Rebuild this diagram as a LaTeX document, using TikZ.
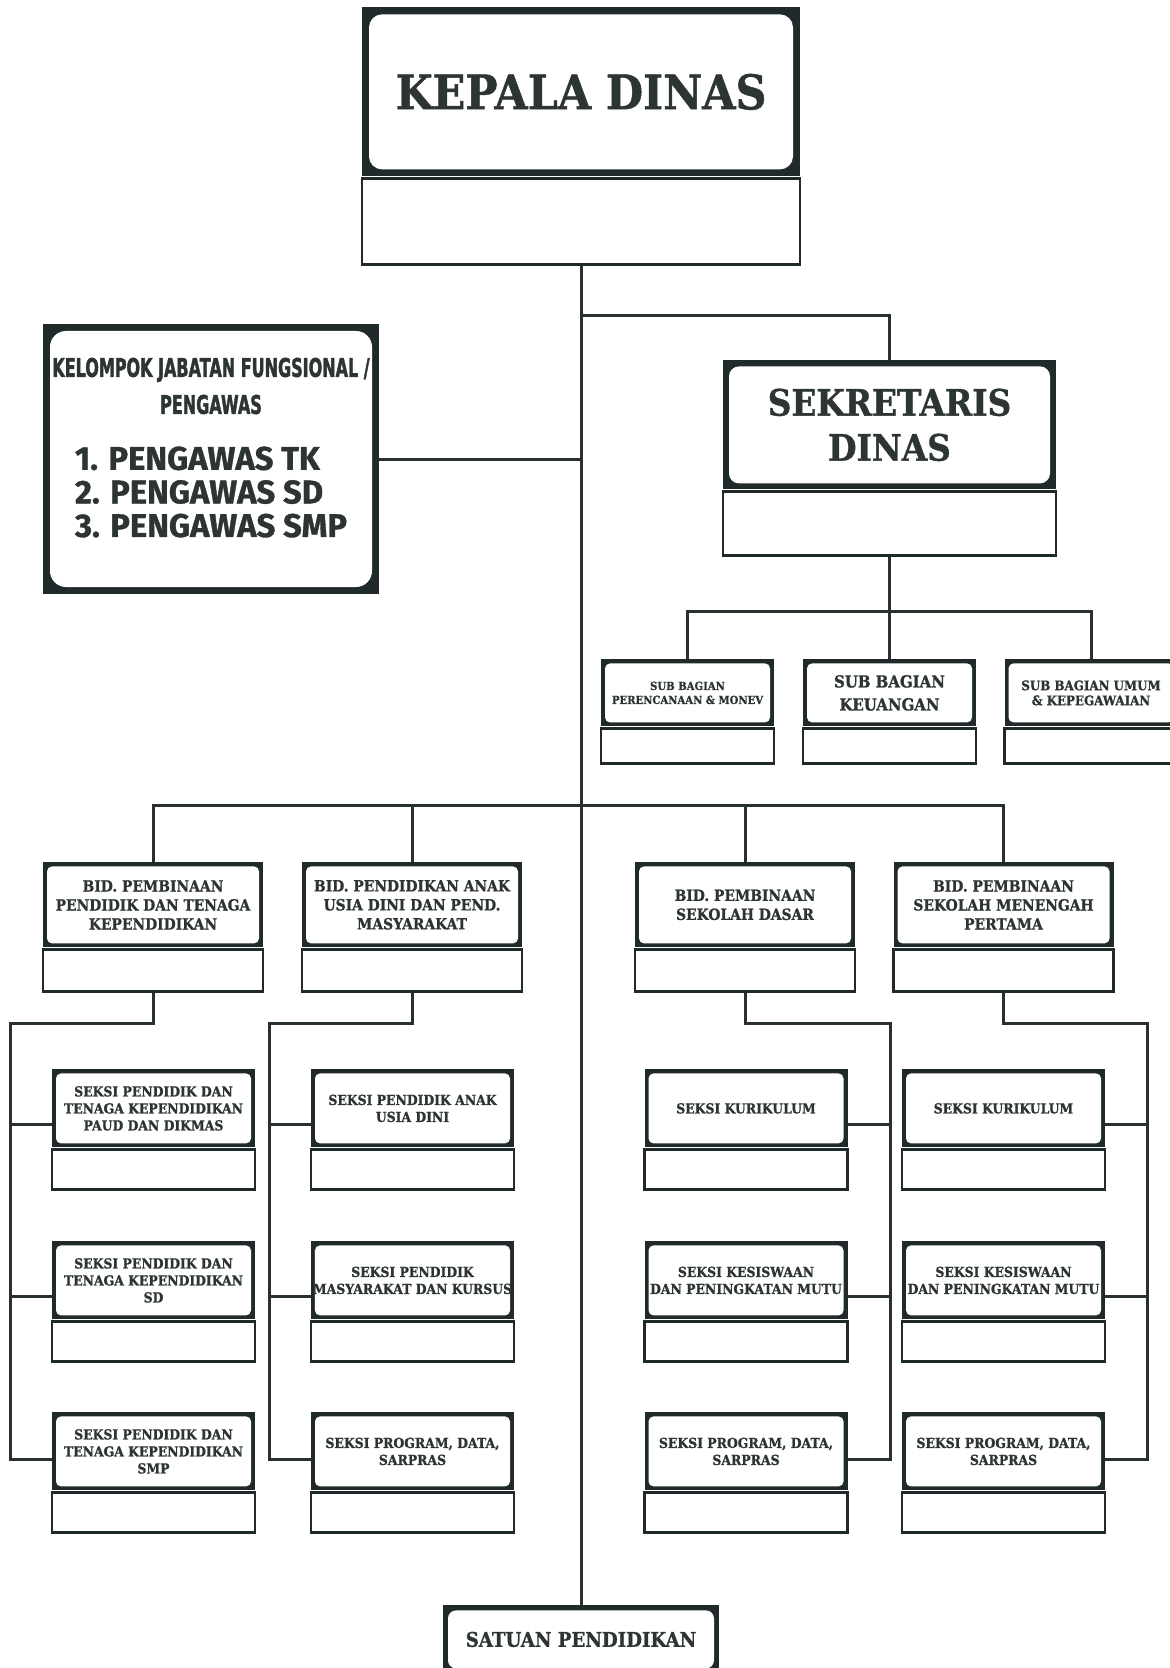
\documentclass[tikz,border=0pt]{standalone}
\usepackage{fontspec}
\usetikzlibrary{positioning}
\newfontfamily\slab{DejaVu Serif}[FakeStretch=0.9, BoldFeatures={FakeBold=1}]
\newfontfamily\kond{DejaVu Sans}[FakeStretch=0.62, BoldFeatures={FakeBold=1.5}]
\newfontfamily\bulat{Fira Sans}[BoldFeatures={FakeBold=1}]
\definecolor{gelap}{RGB}{32,42,42}
\definecolor{garisc}{RGB}{40,48,48}
\definecolor{huruf}{RGB}{44,52,52}
\def\tb{2pt}
\def\rr{2.5pt}

\begin{document}
\begin{tikzpicture}[x=0.5pt, y=-0.5pt]
\tikzset{
  tebal/.store in=\tb,
  sudut/.store in=\rr,
  kepala/.style={fill=gelap, inner sep=1pt, align=center, text=huruf,
    path picture={\fill[white, rounded corners=\rr]
      ([shift={(\tb,\tb)}]path picture bounding box.south west) rectangle
      ([shift={(-\tb,-\tb)}]path picture bounding box.north east);}},
  bawah/.style={draw=gelap, line width=1.4pt, fill=white, inner sep=0pt},
  garis/.style={draw=garisc, line width=1.5pt},
  subbag/.style={kepala, anchor=north, minimum width=86.5pt, minimum height=33.5pt},
  subbagb/.style={bawah, below=0pt of #1, minimum width=86.5pt, minimum height=17.5pt},
  bidang/.style={kepala, anchor=north, minimum width=110pt, minimum height=42.5pt,
    font=\slab\bfseries\fontsize{7.7}{9.5}\selectfont},
  bidangb/.style={bawah, below=0pt of #1, minimum width=110pt, minimum height=21pt},
  seksi/.style={kepala, anchor=north, minimum width=101.5pt, minimum height=39pt,
    font=\slab\bfseries\fontsize{6.9}{8.5}\selectfont},
  seksib/.style={bawah, below=0pt of #1, minimum width=101.5pt, minimum height=20pt},
}
\path[use as bounding box, fill=white] (0,0) rectangle (1169,1668);

% kepala dinas
\node[kepala, anchor=north, tebal=3.5pt, sudut=6.5pt, minimum width=219pt, minimum height=84.5pt,
  font=\slab\bfseries\fontsize{23.8}{28}\selectfont] (kadis) at (581,7) {KEPALA DINAS};
\node[bawah, below=0pt of kadis, minimum width=219pt, minimum height=43pt] (kadisb) {};

% kelompok jabatan fungsional
\node[kepala, tebal=3.5pt, sudut=8pt, minimum width=168pt, minimum height=135pt] (kel) at (211,459) {};
\node[align=center, text=huruf, font=\kond\bfseries\fontsize{12.9}{18.5}\selectfont] (keljudul) at (211,386)
  {KELOMPOK JABATAN FUNGSIONAL /\\PENGAWAS};
\node[align=left, text=huruf, font=\bulat\bfseries\fontsize{16.4}{16.8}\selectfont] (kellist) at (211,492)
  {1. PENGAWAS TK\\2. PENGAWAS SD\\3. PENGAWAS SMP};

% sekretaris
\node[kepala, anchor=north, tebal=3pt, sudut=5pt, minimum width=166.5pt, minimum height=64.5pt,
  font=\slab\bfseries\fontsize{18.2}{22.5}\selectfont] (sek) at (889.5,360) {SEKRETARIS\\DINAS};
\node[bawah, below=0pt of sek, minimum width=166.5pt, minimum height=32pt] (sekb) {};

\node[subbag, font=\slab\bfseries\fontsize{5.6}{7}\selectfont] (sb1) at (687.5,659) {SUB BAGIAN\\PERENCANAAN \& MONEV};
\node[subbagb=sb1] (sb1b) {};
\node[subbag, font=\slab\bfseries\fontsize{8.3}{11.5}\selectfont] (sb2) at (889.5,659) {SUB BAGIAN\\KEUANGAN};
\node[subbagb=sb2] (sb2b) {};
\node[subbag, font=\slab\bfseries\fontsize{6.6}{7.5}\selectfont] (sb3) at (1091,659) {SUB BAGIAN UMUM\\\& KEPEGAWAIAN};
\node[subbagb=sb3] (sb3b) {};

% bidang
\node[bidang] (bd1) at (153,862) {BID. PEMBINAAN\\PENDIDIK DAN TENAGA\\KEPENDIDIKAN};
\node[bidangb=bd1] (bd1b) {};
\node[bidang] (bd2) at (412,862) {BID. PENDIDIKAN ANAK\\USIA DINI DAN PEND.\\MASYARAKAT};
\node[bidangb=bd2] (bd2b) {};
\node[bidang] (bd3) at (745,862) {BID. PEMBINAAN\\SEKOLAH DASAR};
\node[bidangb=bd3] (bd3b) {};
\node[bidang] (bd4) at (1003.5,862) {BID. PEMBINAAN\\SEKOLAH MENENGAH\\PERTAMA};
\node[bidangb=bd4] (bd4b) {};

% seksi
\node[seksi] (s11) at (153.5,1069) {SEKSI PENDIDIK DAN\\TENAGA KEPENDIDIKAN\\PAUD DAN DIKMAS};
\node[seksib=s11] (s11b) {};
\node[seksi] (s12) at (153.5,1241) {SEKSI PENDIDIK DAN\\TENAGA KEPENDIDIKAN\\SD};
\node[seksib=s12] (s12b) {};
\node[seksi] (s13) at (153.5,1412) {SEKSI PENDIDIK DAN\\TENAGA KEPENDIDIKAN\\SMP};
\node[seksib=s13] (s13b) {};

\node[seksi] (s21) at (412.5,1069) {SEKSI PENDIDIK ANAK\\USIA DINI};
\node[seksib=s21] (s21b) {};
\node[seksi] (s22) at (412.5,1241) {SEKSI PENDIDIK\\MASYARAKAT DAN KURSUS};
\node[seksib=s22] (s22b) {};
\node[seksi] (s23) at (412.5,1412) {SEKSI PROGRAM, DATA,\\SARPRAS};
\node[seksib=s23] (s23b) {};

\node[seksi] (s31) at (746,1069) {SEKSI KURIKULUM};
\node[seksib=s31] (s31b) {};
\node[seksi] (s32) at (746,1241) {SEKSI KESISWAAN\\DAN PENINGKATAN MUTU};
\node[seksib=s32] (s32b) {};
\node[seksi] (s33) at (746,1412) {SEKSI PROGRAM, DATA,\\SARPRAS};
\node[seksib=s33] (s33b) {};

\node[seksi] (s41) at (1003.5,1069) {SEKSI KURIKULUM};
\node[seksib=s41] (s41b) {};
\node[seksi] (s42) at (1003.5,1241) {SEKSI KESISWAAN\\DAN PENINGKATAN MUTU};
\node[seksib=s42] (s42b) {};
\node[seksi] (s43) at (1003.5,1412) {SEKSI PROGRAM, DATA,\\SARPRAS};
\node[seksib=s43] (s43b) {};

% satuan pendidikan
\node[kepala, anchor=north, tebal=2.5pt, sudut=4pt, minimum width=138pt, minimum height=34pt,
  font=\slab\bfseries\fontsize{10.1}{12}\selectfont] (sat) at (581,1605) {SATUAN PENDIDIKAN};

% garis
\coordinate (c1) at (581,316);
\coordinate (c2) at (581,805);
\coordinate (c3) at (889.5,611);
\coordinate (ki1) at (10,1023);
\coordinate (ki2) at (269,1023);
\coordinate (ka3) at (890,1023);
\coordinate (ka4) at (1147,1023);

\draw[garis] (kadisb.south) -- (sat.north);
\draw[garis] (c1) -| (sek.north);
\draw[garis] (kel.east) -- (kel.east -| kadisb.south);
\draw[garis] (sekb.south) -- (sb2.north);
\draw[garis] (sb1.north) |- (c3) -| (sb3.north);
\draw[garis] (bd1.north) |- (c2) -| (bd4.north);
\draw[garis] (bd2.north) -- (bd2.north |- c2);
\draw[garis] (bd3.north) -- (bd3.north |- c2);

\draw[garis] (bd1b.south) |- (ki1) |- ([yshift=-4pt]s13.west);
\draw[garis] ([yshift=-8pt]s11.west) -| (ki1);
\draw[garis] ([yshift=-8pt]s12.west) -| (ki1);
\draw[garis] (bd2b.south) |- (ki2) |- ([yshift=-4pt]s23.west);
\draw[garis] ([yshift=-8pt]s21.west) -| (ki2);
\draw[garis] ([yshift=-8pt]s22.west) -| (ki2);
\draw[garis] (bd3b.south) |- (ka3) |- ([yshift=-4pt]s33.east);
\draw[garis] ([yshift=-8pt]s31.east) -| (ka3);
\draw[garis] ([yshift=-8pt]s32.east) -| (ka3);
\draw[garis] (bd4b.south) |- (ka4) |- ([yshift=-4pt]s43.east);
\draw[garis] ([yshift=-8pt]s41.east) -| (ka4);
\draw[garis] ([yshift=-8pt]s42.east) -| (ka4);
\end{tikzpicture}
\end{document}
